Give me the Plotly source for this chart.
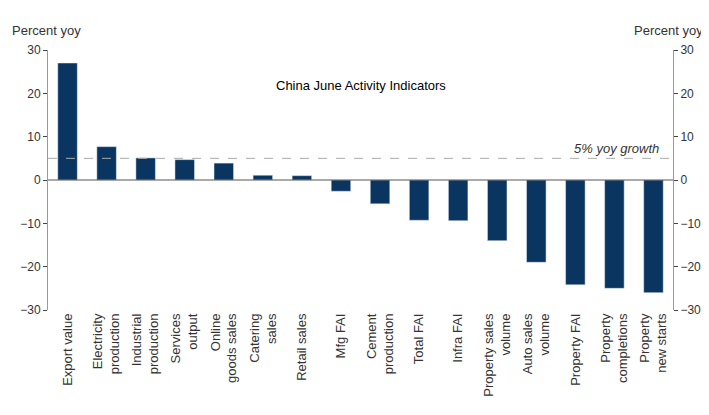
import plotly.graph_objects as go

# China June activity indicators, percent yoy
categories = [
    "Export value", "Electricity<br>production", "Industrial<br>production",
    "Services<br>output", "Online<br>goods sales", "Catering<br>sales",
    "Retail sales", "Mfg FAI", "Cement<br>production", "Total FAI",
    "Infra FAI", "Property sales<br>volume", "Auto sales<br>volume",
    "Property FAI", "Property<br>completions", "Property<br>new starts",
]
values = [27.0, 7.7, 5.1, 4.7, 3.9, 1.1, 1.0, -2.6, -5.5, -9.3,
          -9.4, -14.0, -19.0, -24.2, -25.0, -26.0]
growth_line = 5
tick_vals = [-30, -20, -10, 0, 10, 20, 30]

fig = go.Figure()
fig.add_trace(go.Bar(x=categories, y=values, marker_color="#0b3561",
                     width=0.5, showlegend=False))
# invisible trace to enable right axis
fig.add_trace(go.Scatter(x=categories, y=values, yaxis="y2", mode="none",
                         showlegend=False, hoverinfo="skip"))

fig.add_hline(y=growth_line, line=dict(color="#aaaaaa", width=1, dash="dash"))
fig.add_hline(y=0, line=dict(color="#555555", width=1))

fig.add_annotation(x=0.5, y=0.9, xref="paper", yref="paper",
                   text="China June Activity Indicators", showarrow=False,
                   font=dict(size=13, color="#000"))
fig.add_annotation(x=0.98, y=growth_line, xref="paper", yref="y",
                   text="<i>5% yoy growth</i>", showarrow=False,
                   xanchor="right", yanchor="bottom",
                   font=dict(size=13, color="#333"))
fig.add_annotation(x=0, y=1.0, xref="paper", yref="paper", xanchor="left",
                   yanchor="bottom", xshift=-38, yshift=10, text="Percent yoy",
                   showarrow=False, font=dict(size=13, color="#333"))
fig.add_annotation(x=1, y=1.0, xref="paper", yref="paper", xanchor="right",
                   yanchor="bottom", xshift=32, yshift=10, text="Percent yoy",
                   showarrow=False, font=dict(size=13, color="#333"))

axis_common = dict(range=[-30, 30], tickvals=tick_vals, showgrid=False,
                   zeroline=False, ticks="outside", ticklen=4,
                   tickfont=dict(size=12, color="#333"), showline=True,
                   linecolor="#999", automargin=False)
fig.update_layout(
    width=709, height=415,
    margin=dict(l=40, r=44, t=42, b=113),
    plot_bgcolor="white", paper_bgcolor="white",
    font=dict(family="Liberation Sans, Arial, sans-serif"),
    xaxis=dict(tickangle=-90, tickfont=dict(size=13, color="#333"),
               showline=False, ticks="", automargin=False),
    yaxis=axis_common,
    yaxis2=dict(overlaying="y", side="right", **axis_common),
    bargap=0.5,
)

fig.write_html("out.html")
